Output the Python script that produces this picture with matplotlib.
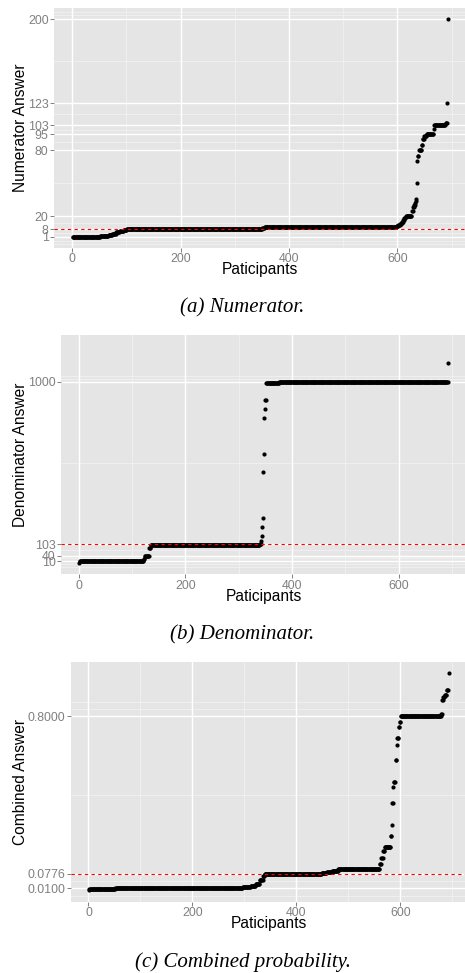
import numpy as np
import matplotlib
matplotlib.use('Agg')
import matplotlib.pyplot as plt

# sorted answers, stored as (value, how many participants gave it)
num_values = [1, 2, 3, 4, 5, 6, 7, 8, 9, 10, 11, 12, 13, 14, 15, 16, 18, 20,
              25, 28, 30, 32, 34, 36, 50, 70, 75, 80, 85, 90, 93, 95, 100,
              103, 105, 123, 200]
num_counts = [51, 15, 7, 7, 7, 7, 6, 250, 4, 244, 3, 3, 2, 2, 2, 2, 3, 11,
              2, 2, 2, 1, 1, 1, 1, 1, 2, 5, 2, 3, 4, 13, 1,
              21, 3, 1, 1]
num_ticks = [1, 8, 20, 80, 95, 103, 123, 200]
num_correct = 8

den_values = [1, 10, 20, 40, 80, 100, 103, 120, 150, 200, 250, 500, 600, 800,
              850, 900, 990, 1000, 1100]
den_counts = [1, 120, 2, 8, 3, 205, 2, 1, 1, 1, 1, 1, 1, 1,
              1, 2, 24, 317, 1]
den_ticks = [10, 40, 103, 1000]
den_correct = 103

comb_values = [0.001, 0.005, 0.008, 0.01, 0.015, 0.02, 0.03, 0.05, 0.065,
               0.0776, 0.08, 0.085, 0.09, 0.1, 0.12, 0.15, 0.18, 0.2, 0.25,
               0.3, 0.4, 0.475, 0.5, 0.6, 0.667, 0.7, 0.75, 0.775, 0.8, 0.81,
               0.875, 0.89, 0.9, 0.92, 1.0]
comb_counts = [1, 10, 40, 245, 15, 10, 8, 6, 3,
               110, 10, 10, 12, 80, 3, 3, 3, 12, 2,
               1, 2, 1, 3, 2, 1, 3, 2, 2, 78, 2,
               2, 3, 4, 3, 1]
comb_ticks = [0.01, 0.0776, 0.8]
comb_correct = 0.0776

W, H = 465, 973
BG = '#E5E5E5'
GREY = '#808080'


def minor_breaks(breaks, lo, hi):
    "ggplot-style minor breaks: midpoints, plus one extra break beyond each end"
    b = list(breaks)
    bd = b[1] - b[0]
    if lo < b[0]:
        b = [b[0] - bd] + b
    if hi > b[-1]:
        b = b + [b[-1] + bd]
    out = []
    for a, c in zip(b[:-1], b[1:]):
        out += [a, (a + c) / 2]
    out.append(b[-1])
    return [m for m in out if lo <= m <= hi and m not in breaks]


def panel(fig, left, top, values, counts, yticks, ylabels, ylim, correct,
          ylabel, caption):
    bottom = top + 239.4
    right = 466.5
    ax = fig.add_axes([left / W, 1 - bottom / H, (right - left) / W, 239.4 / H])
    y = np.repeat(values, counts)
    x = np.arange(1, len(y) + 1)
    xlim = (1 - 0.05 * (len(y) - 1), len(y) + 0.05 * (len(y) - 1))

    ax.set_facecolor(BG)
    for s in ax.spines.values():
        s.set_visible(False)

    xt = [0, 200, 400, 600]
    for m in minor_breaks(xt, *xlim):
        ax.axvline(m, color='#F2F2F2', lw=0.6, zorder=0)
    for m in minor_breaks(yticks, *ylim):
        ax.axhline(m, color='#F2F2F2', lw=0.6, zorder=0)
    for t in xt:
        ax.axvline(t, color='white', lw=1.0, zorder=0.5)
    for t in yticks:
        ax.axhline(t, color='white', lw=1.0, zorder=0.5)

    ax.plot(x, y, 'o', color='black', ms=3, mew=0, zorder=2)
    ax.axhline(correct, color='red', lw=0.8, ls=(0, (3, 3)), zorder=3)

    ax.set_xlim(*xlim)
    ax.set_ylim(*ylim)
    ax.set_xticks(xt)
    ax.set_xticklabels([str(t) for t in xt])
    ax.set_yticks(yticks)
    ax.set_yticklabels(ylabels)
    ax.tick_params(colors=GREY, labelcolor=GREY, labelsize=8.9, length=2.9,
                   width=0.7, pad=1)

    ax.set_xlabel('Paticipants', fontsize=11.2, color='black', va='center')
    ax.xaxis.set_label_coords(0.5, -21.6 / 239.4)
    ax.set_ylabel(ylabel, fontsize=11.2, color='black', va='center')
    ax.yaxis.set_label_coords(-(left - 20.5) / (right - left), 0.5)

    fig.text(242.5 / W, 1 - (bottom + 60.6) / H, caption, ha='center',
             va='center', family='Liberation Serif', style='italic', size=15)
    return ax


plt.rcParams['font.family'] = ['Liberation Sans', 'DejaVu Sans']
fig = plt.figure(figsize=(W / 100, H / 100), dpi=100)

panel(fig, 54, 8.3, num_values, num_counts, num_ticks,
      [str(t) for t in num_ticks], (-8.95, 209.95), num_correct,
      'Numerator Answer', '(a) Numerator.')
panel(fig, 61, 335, den_values, den_counts, den_ticks,
      [str(t) for t in den_ticks], (-63, 1257), den_correct,
      'Denominator Answer', '(b) Denominator.')
panel(fig, 71, 662.3, comb_values, comb_counts, comb_ticks,
      ['%.4f' % t for t in comb_ticks], (-0.0517, 1.048), comb_correct,
      'Combined Answer', '(c) Combined probability.')

fig.savefig('out.png', dpi=100)
